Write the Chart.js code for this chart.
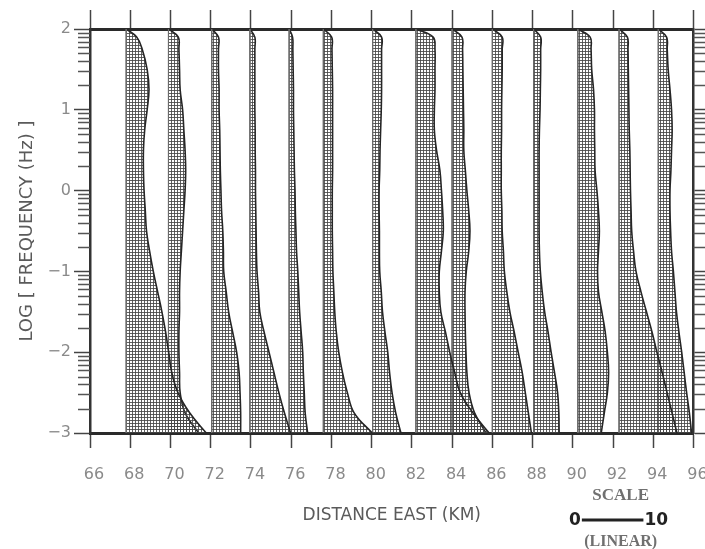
<!DOCTYPE html>
<html>
<head>
<meta charset="utf-8">
<script src="https://cdn.jsdelivr.net/npm/chart.js@4/dist/chart.umd.min.js"></script>
<style>
  html, body { margin: 0; padding: 0; background: #fff; }
  #wrap { width: 705px; height: 549px; position: relative; }
</style>
</head>
<body>
<div id="wrap"><canvas id="chart"></canvas></div>
<script>
// Log10 frequency levels (Hz) at which each spectral profile is sampled
const freqLevels = [2, 1.9, 1.75, 1.5, 1.25, 1, 0.75, 0.5, 0.25, 0, -0.25, -0.5, -0.75, -1,
                    -1.25, -1.5, -1.75, -2, -2.25, -2.5, -2.75, -3];

// Station positions along the profile (km east)
const stationKm = [67.8, 69.9, 72.05, 73.95, 75.9, 77.6, 80.05, 82.2, 84.0, 86.0, 88.05, 90.25, 92.3, 94.25];

// Amplitude at each frequency level, linear scale units (0-10 bar in the key)
const amp68 = [0, 1.7, 2.6, 3.4, 3.7, 3.4, 3.0, 2.8, 2.8, 2.9, 3.1, 3.3, 3.8, 4.4, 5.1, 5.8, 6.4, 6.9, 7.4, 8.4, 10.3, 13.0];
const amp70 = [0, 1.6, 1.7, 1.8, 1.9, 2.3, 2.5, 2.7, 2.8, 2.7, 2.5, 2.3, 2.1, 1.9, 1.8, 1.8, 1.7, 1.7, 1.8, 1.9, 2.7, 4.9];
const amp72 = [0, 1.1, 1.1, 1.1, 1.2, 1.2, 1.3, 1.35, 1.4, 1.5, 1.6, 1.8, 1.9, 1.95, 2.35, 2.75, 3.4, 4.05, 4.45, 4.6, 4.7, 4.7];
const amp74 = [0, 0.8, 0.8, 0.8, 0.8, 0.8, 0.85, 0.85, 0.9, 0.9, 0.95, 1.0, 1.05, 1.15, 1.4, 1.6, 2.3, 3.1, 3.9, 4.7, 5.6, 6.6];
const amp76 = [0, 0.55, 0.6, 0.65, 0.7, 0.7, 0.75, 0.8, 0.85, 0.95, 1.0, 1.1, 1.2, 1.4, 1.55, 1.7, 1.95, 2.2, 2.3, 2.45, 2.6, 3.0];
const amp78 = [0, 1.35, 1.4, 1.45, 1.5, 1.5, 1.5, 1.5, 1.5, 1.45, 1.45, 1.45, 1.5, 1.55, 1.7, 1.85, 2.1, 2.5, 3.1, 3.9, 5.0, 7.95];
const amp80 = [0, 1.45, 1.45, 1.45, 1.45, 1.4, 1.3, 1.2, 1.15, 1.05, 1.05, 1.1, 1.1, 1.15, 1.4, 1.6, 2.0, 2.45, 2.75, 3.15, 3.75, 4.6];
const amp82 = [0, 2.8, 3.1, 3.1, 3.1, 3.0, 3.0, 3.35, 3.9, 4.15, 4.35, 4.45, 4.15, 3.8, 3.8, 4.05, 4.8, 5.5, 6.3, 7.2, 9.25, 11.9];
const amp84 = [0, 1.6, 1.7, 1.75, 1.8, 1.85, 1.9, 1.9, 2.15, 2.4, 2.7, 2.9, 2.7, 2.3, 2.1, 2.1, 2.15, 2.25, 2.4, 2.75, 3.65, 5.5];
const amp86 = [0, 1.6, 1.6, 1.6, 1.55, 1.5, 1.5, 1.45, 1.45, 1.45, 1.55, 1.6, 1.8, 1.95, 2.35, 2.85, 3.55, 4.2, 4.85, 5.35, 5.85, 6.35];
const amp88 = [0, 1.15, 1.15, 1.15, 1.1, 1.05, 0.95, 0.9, 0.9, 0.9, 0.9, 0.9, 0.95, 1.1, 1.4, 1.8, 2.35, 2.85, 3.4, 3.9, 4.1, 4.15];
const amp90 = [0, 2.0, 2.15, 2.25, 2.55, 2.7, 2.7, 2.75, 2.8, 3.1, 3.35, 3.5, 3.35, 3.2, 3.35, 3.9, 4.45, 4.8, 5.0, 4.8, 4.3, 3.8];
const amp92 = [0, 1.35, 1.45, 1.5, 1.55, 1.6, 1.65, 1.75, 1.8, 1.85, 1.95, 2.05, 2.35, 2.75, 3.55, 4.45, 5.35, 6.15, 7.0, 7.8, 8.6, 9.4];
const amp94 = [0, 1.35, 1.45, 1.6, 1.9, 2.15, 2.25, 2.15, 2.05, 1.9, 1.9, 2.0, 2.15, 2.45, 2.7, 2.95, 3.35, 3.8, 4.2, 4.6, 5.05, 5.4];

const profiles = [amp68, amp70, amp72, amp74, amp76, amp78, amp80, amp82, amp84, amp86, amp88, amp90, amp92, amp94];

// Axis ticks and labels
const xTickValues = [66, 68, 70, 72, 74, 76, 78, 80, 82, 84, 86, 88, 90, 92, 94, 96];
const yTickValues = [-3, -2, -1, 0, 1, 2];
const yTickLabels = ['\u22123', '\u22122', '\u22121', '0', '1', '2'];

// Amplitude-to-distance conversion: 10 scale units span this many km
const KM_PER_UNIT = 0.306;
const SCALE_BAR_UNITS = 10;
const SCALE_BAR_START_KM = 90.45;

Chart.defaults.font.family = "'DejaVu Sans', sans-serif";

// Fine cross-hatch used to fill every profile
function makeHatch() {
  const c = document.createElement('canvas');
  c.width = 3; c.height = 3;
  const g = c.getContext('2d');
  g.fillStyle = 'rgba(70,70,70,0.85)';
  g.fillRect(0, 0, 3, 1);
  g.fillRect(0, 0, 1, 3);
  return g.createPattern(c, 'repeat');
}
const hatch = makeHatch();

const datasets = [];
stationKm.forEach((s, i) => {
  datasets.push({
    data: [{x: s, y: 2}, {x: s, y: -3}],
    borderColor: '#6a6a6a',
    borderWidth: 1,
    pointRadius: 0,
    fill: false,
    tension: 0
  });
  datasets.push({
    data: freqLevels.map((f, k) => ({x: s + profiles[i][k] * KM_PER_UNIT, y: f})),
    borderColor: '#262626',
    borderWidth: 1.6,
    backgroundColor: hatch,
    pointRadius: 0,
    fill: {value: s},
    tension: 0.4
  });
});

// Minor logarithmic ticks on both vertical axes
const minorLogTicks = [];
for (let d = -3; d < 2; d++) {
  for (let k = 2; k <= 9; k++) minorLogTicks.push(d + Math.log10(k));
}

const frameExtras = {
  id: 'frameExtras',
  afterDraw(chart) {
    const {ctx, chartArea, scales} = chart;
    const ys = scales.y;
    ctx.save();
    ctx.strokeStyle = '#555';
    ctx.lineWidth = 1.3;
    minorLogTicks.forEach(v => {
      const py = Math.round(ys.getPixelForValue(v)) + 0.5;
      ctx.beginPath();
      ctx.moveTo(chartArea.left - 12, py); ctx.lineTo(chartArea.left, py);
      ctx.moveTo(chartArea.right, py); ctx.lineTo(chartArea.right + 13, py);
      ctx.stroke();
    });

    // Amplitude key
    const xs = scales.x;
    const x0 = xs.getPixelForValue(SCALE_BAR_START_KM);
    const x1 = xs.getPixelForValue(SCALE_BAR_START_KM + SCALE_BAR_UNITS * KM_PER_UNIT);
    const cx = (x0 + x1) / 2 + 8;
    ctx.fillStyle = '#707070';
    ctx.textAlign = 'center';
    ctx.textBaseline = 'middle';
    ctx.font = "bold 17px 'Liberation Serif', serif";
    ctx.fillText('SCALE', cx, 496);
    ctx.font = "bold 16px 'Liberation Serif', serif";
    ctx.fillText('(LINEAR)', cx, 542);
    ctx.strokeStyle = '#222';
    ctx.lineWidth = 3;
    ctx.beginPath();
    ctx.moveTo(x0, 520); ctx.lineTo(x1, 520);
    ctx.stroke();
    ctx.fillStyle = '#222';
    ctx.font = "bold 17px 'DejaVu Sans', sans-serif";
    ctx.textAlign = 'right';
    ctx.fillText('0', x0 - 1, 521);
    ctx.textAlign = 'left';
    ctx.fillText('10', x1 + 1, 521);
    ctx.restore();
  }
};

new Chart(document.getElementById('chart'), {
  type: 'line',
  data: {datasets},
  plugins: [frameExtras],
  options: {
    indexAxis: 'y',
    responsive: true,
    maintainAspectRatio: false,
    animation: false,
    layout: {padding: 0},
    plugins: {legend: {display: false}, tooltip: {enabled: false}},
    scales: {
      x: {
        type: 'linear', position: 'bottom', min: 66, max: 96,
        afterBuildTicks: s => { s.ticks = xTickValues.map(v => ({value: v})); },
        afterFit: s => { s.height = 116; s.paddingLeft = 0; s.paddingRight = 0; },
        ticks: {color: '#8a8a8a', font: {size: 16}, padding: 17, labelOffset: 4, maxRotation: 0, autoSkip: false},
        grid: {drawOnChartArea: false, tickLength: 15, tickColor: '#444', tickWidth: 1.5},
        border: {display: true, width: 3, color: '#2a2a2a'},
        title: {display: true, text: 'DISTANCE EAST (KM)', color: '#5a5a5a', font: {size: 17}, padding: {bottom: 23}}
      },
      x2: {
        type: 'linear', axis: 'x', position: 'top', min: 66, max: 96,
        afterBuildTicks: s => { s.ticks = xTickValues.map(v => ({value: v})); },
        afterFit: s => { s.height = 29; s.paddingLeft = 0; s.paddingRight = 0; },
        ticks: {display: false},
        grid: {drawOnChartArea: false, tickLength: 19, tickColor: '#444', tickWidth: 1.5},
        border: {display: true, width: 3, color: '#2a2a2a'}
      },
      y: {
        type: 'linear', position: 'left', min: -3, max: 2,
        afterBuildTicks: s => { s.ticks = yTickValues.map(v => ({value: v})); },
        afterFit: s => { s.width = 90; s.paddingTop = 0; s.paddingBottom = 0; },
        ticks: {
          color: '#8a8a8a', font: {size: 16}, padding: 3,
          callback: v => yTickLabels[yTickValues.indexOf(v)]
        },
        grid: {drawOnChartArea: false, tickLength: 16, tickColor: '#444', tickWidth: 1.5},
        border: {display: true, width: 2.5, color: '#333'},
        title: {display: true, text: 'LOG [ FREQUENCY (Hz) ]', color: '#5a5a5a', font: {size: 18}, padding: {top: 17}}
      },
      y2: {
        type: 'linear', axis: 'y', position: 'right', min: -3, max: 2,
        afterBuildTicks: s => { s.ticks = yTickValues.map(v => ({value: v})); },
        afterFit: s => { s.width = 11.5; s.paddingTop = 0; s.paddingBottom = 0; },
        ticks: {display: false},
        grid: {drawOnChartArea: false, tickLength: 14, tickColor: '#444', tickWidth: 1.5},
        border: {display: true, width: 2.5, color: '#333'}
      }
    }
  }
});
</script>
</body>
</html>
